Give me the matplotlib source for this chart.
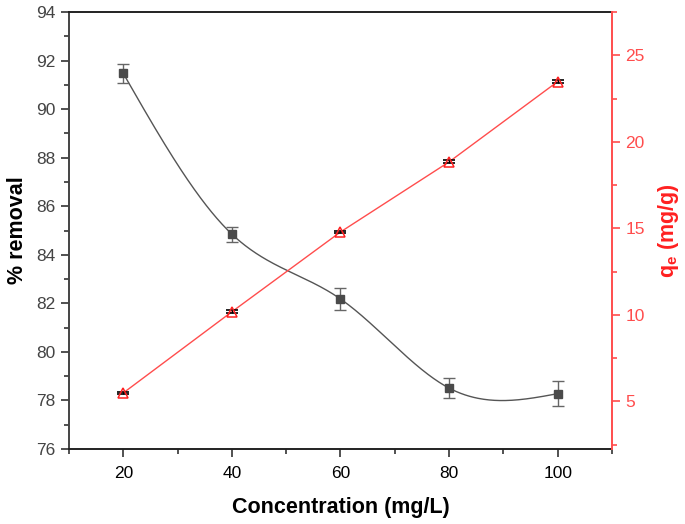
import numpy as np
import matplotlib
matplotlib.use("Agg")
import matplotlib.pyplot as plt
from matplotlib.ticker import MultipleLocator

plt.rcParams['font.family'] = ['Liberation Sans', 'DejaVu Sans']
plt.rcParams['mathtext.fontset'] = 'custom'
plt.rcParams['mathtext.rm'] = 'Liberation Sans'
plt.rcParams['mathtext.bf'] = 'Liberation Sans:bold'

conc = [20, 40, 60, 80, 100]
removal = [91.47, 84.85, 82.18, 78.51, 78.28]
removal_err = [0.38, 0.31, 0.47, 0.40, 0.51]
qe = [5.49, 10.18, 14.79, 18.84, 23.48]
qe_err = [0.08, 0.08, 0.08, 0.08, 0.08]


def natural_spline(x, y, n=400):
    x = np.asarray(x, float)
    y = np.asarray(y, float)
    k = len(x)
    h = np.diff(x)
    A = np.zeros((k, k))
    b = np.zeros(k)
    A[0, 0] = 1
    A[-1, -1] = 1
    for i in range(1, k - 1):
        A[i, i - 1] = h[i - 1]
        A[i, i] = 2 * (h[i - 1] + h[i])
        A[i, i + 1] = h[i]
        b[i] = 3 * ((y[i + 1] - y[i]) / h[i] - (y[i] - y[i - 1]) / h[i - 1])
    c = np.linalg.solve(A, b)
    xs = np.linspace(x[0], x[-1], n)
    ys = np.empty_like(xs)
    for j, xv in enumerate(xs):
        i = min(np.searchsorted(x, xv, side='right') - 1, k - 2)
        dx = xv - x[i]
        bi = (y[i + 1] - y[i]) / h[i] - h[i] * (2 * c[i] + c[i + 1]) / 3
        di = (c[i + 1] - c[i]) / (3 * h[i])
        ys[j] = y[i] + bi * dx + c[i] * dx ** 2 + di * dx ** 3
    return xs, ys


fig = plt.figure(figsize=(6.85, 5.24), dpi=100)
ax = fig.add_axes([0.1007, 0.1431, 0.7927, 0.834])
ax2 = ax.twinx()

gray = '#4a4a4a'
red = '#ff4d4d'

xs, ys = natural_spline(conc, removal)
ax.plot(xs, ys, color='#555555', lw=1.0, zorder=2)
ax.errorbar(conc, removal, yerr=removal_err, fmt='s', color=gray, ms=6,
            ecolor='#666666', elinewidth=1.0, capsize=4.5, capthick=1.0, zorder=3)

ax2.plot(conc, qe, color=red, lw=1.0, zorder=2)
ax2.errorbar(conc, qe, yerr=qe_err, fmt='none', ecolor='black', elinewidth=0.8,
             capsize=4, capthick=1.2, zorder=3)
ax2.plot(conc, qe, linestyle='none', marker='^', ms=7, mfc='none', mec='#ff2020',
         mew=1.1, zorder=4)

ax.set_xlim(10, 110)
ax.set_ylim(76, 94)
ax2.set_ylim(2.25, 27.5)

ax.xaxis.set_major_locator(MultipleLocator(20))
ax.xaxis.set_minor_locator(MultipleLocator(10))
ax.yaxis.set_major_locator(MultipleLocator(2))
ax.yaxis.set_minor_locator(MultipleLocator(1))
ax2.yaxis.set_major_locator(MultipleLocator(5))
ax2.yaxis.set_minor_locator(MultipleLocator(2.5))

ax.tick_params(axis='both', which='major', direction='out', length=6, width=1.2,
               labelsize=12.5, colors='#333333', labelcolor='#444444')
ax.tick_params(axis='both', which='minor', direction='out', length=3.5, width=1.2,
               colors='#333333')
ax.tick_params(axis='x', labelcolor='black', pad=6)
ax2.tick_params(axis='y', which='major', direction='out', length=6, width=1.2,
                labelsize=12.5, colors='#ff4d4d', labelcolor='#ff4d4d')
ax2.tick_params(axis='y', which='minor', direction='out', length=3.5, width=1.2,
                colors='#ff4d4d')

for s in ['top', 'bottom']:
    ax.spines[s].set_color('#222222')
    ax.spines[s].set_linewidth(1.4)
ax.spines['left'].set_color('#444444')
ax.spines['left'].set_linewidth(1.4)
ax2.spines['right'].set_color('#ff4d4d')
ax2.spines['right'].set_linewidth(1.4)
ax2.spines['top'].set_visible(False)
ax2.spines['left'].set_visible(False)
ax2.spines['bottom'].set_visible(False)
ax.spines['right'].set_visible(False)

ax.set_xlabel('Concentration (mg/L)', fontsize=15.5, fontweight='bold', labelpad=12)
ax.set_ylabel('% removal', fontsize=15.5, fontweight='bold', labelpad=6)
ax2.set_ylabel(r'q$_\mathbf{e}$ (mg/g)', fontsize=15.5, fontweight='bold', color='#ff2020',
               labelpad=8)

fig.savefig('out.png', dpi=100)
